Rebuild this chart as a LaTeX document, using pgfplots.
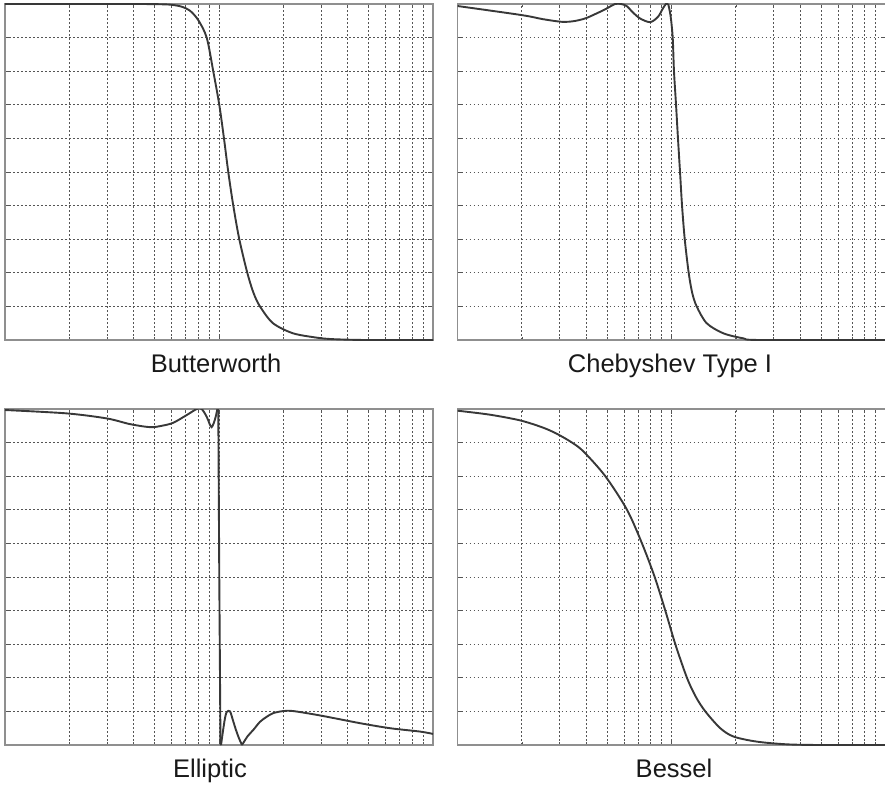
\documentclass[border=0pt]{standalone}
\usepackage{fontspec}
\setmainfont{Liberation Sans}
\usepackage{pgfplots}
\pgfplotsset{compat=1.18}

\definecolor{curvecol}{HTML}{383838}
\definecolor{gridcol}{HTML}{555555}
\definecolor{framecol}{HTML}{8F8F8F}

\begin{document}
\begin{tikzpicture}
\useasboundingbox (0pt,0pt) rectangle (885pt,-784pt);

% Butterworth
\begin{semilogxaxis}[at={(5pt,-4pt)}, anchor=north west,
    width=428pt, height=336pt, scale only axis,
    xmin=0.1, xmax=10, ymin=0, ymax=1,
    xtick={0.1,1,10}, ytick={0,0.1,0.2,0.3,0.4,0.5,0.6,0.7,0.8,0.9,1},
    xticklabels={}, yticklabels={}, grid=both,
    major grid style={color=gridcol, line width=1pt, dash pattern=on 1.6pt off 2.4pt},
    minor grid style={color=gridcol, line width=1pt, dash pattern=on 1.6pt off 2.4pt},
    axis line style={color=framecol, line width=1.4pt},
    tick style={color=gridcol, line width=0.8pt}, tick align=inside,
    major tick length=5pt, minor tick length=3pt]
\addplot[color=curvecol, line width=1.9pt, mark=none, smooth] coordinates {
(0.1,1) (0.4,1) (0.55,0.999) (0.611,0.997) (0.67,0.992) (0.732,0.980)
(0.80,0.952) (0.876,0.90) (0.94,0.80) (1.003,0.70) (1.055,0.60)
(1.105,0.50) (1.166,0.40) (1.244,0.30) (1.356,0.20) (1.45,0.14)
(1.554,0.10) (1.788,0.05) (2.217,0.02) (2.861,0.007) (3.30,0.003)
(4,0.001) (5,0) (10,0)
};
\end{semilogxaxis}
\node[anchor=base, font=\fontsize{25.5}{30}\selectfont, text=black!90] at (216pt,-372pt) {Butterworth};

% Chebyshev Type I
\begin{semilogxaxis}[at={(457.5pt,-4pt)}, anchor=north west,
    width=428pt, height=336pt, scale only axis,
    xmin=0.1, xmax=10, ymin=0, ymax=1,
    xtick={0.1,1,10}, ytick={0,0.1,0.2,0.3,0.4,0.5,0.6,0.7,0.8,0.9,1},
    xticklabels={}, yticklabels={}, grid=both,
    major grid style={color=gridcol, line width=1pt, dash pattern=on 1.6pt off 2.4pt},
    minor grid style={color=gridcol, line width=1pt, dash pattern=on 1.6pt off 2.4pt},
    axis line style={color=framecol, line width=1.4pt},
    tick style={color=gridcol, line width=0.8pt}, tick align=inside,
    major tick length=5pt, minor tick length=3pt]
% passband ripple
\addplot[color=curvecol, line width=1.9pt, mark=none, smooth] coordinates {
(0.1,0.994) (0.1995,0.967) (0.25,0.955) (0.307,0.947) (0.35,0.949)
(0.395,0.957) (0.44,0.970) (0.489,0.984) (0.545,1.0) (0.581,1.0)
(0.617,0.994) (0.66,0.975) (0.713,0.957) (0.795,0.946) (0.865,0.962)
(0.912,0.987) (0.942,1.0) (0.965,1.0)
};
% transition and stopband
\addplot[color=curvecol, line width=1.9pt, mark=none, smooth] coordinates {
(0.965,1.0) (0.99,0.965) (1.013,0.90)
(1.027,0.80) (1.050,0.70) (1.072,0.60) (1.096,0.50) (1.120,0.40)
(1.153,0.30) (1.203,0.20) (1.25,0.14) (1.311,0.10) (1.460,0.05)
(1.746,0.02) (2.165,0.005) (2.592,0.0) (10,0)
};
\end{semilogxaxis}
\node[anchor=base, font=\fontsize{25.5}{30}\selectfont, text=black!90] at (670pt,-372pt) {Chebyshev Type I};

% Elliptic
\begin{semilogxaxis}[at={(5pt,-409pt)}, anchor=north west,
    width=428pt, height=336pt, scale only axis,
    xmin=0.1, xmax=10, ymin=0, ymax=1,
    xtick={0.1,1,10}, ytick={0,0.1,0.2,0.3,0.4,0.5,0.6,0.7,0.8,0.9,1},
    xticklabels={}, yticklabels={}, grid=both,
    major grid style={color=gridcol, line width=1pt, dash pattern=on 1.6pt off 2.4pt},
    minor grid style={color=gridcol, line width=1pt, dash pattern=on 1.6pt off 2.4pt},
    axis line style={color=framecol, line width=1.4pt},
    tick style={color=gridcol, line width=0.8pt}, tick align=inside,
    major tick length=5pt, minor tick length=3pt]
% passband ripple
\addplot[color=curvecol, line width=1.9pt, mark=none, smooth] coordinates {
(0.1,0.997) (0.194,0.987) (0.2987,0.972) (0.384,0.955) (0.476,0.946)
(0.54,0.950) (0.611,0.959) (0.7066,0.982) (0.787,1.0) (0.830,1.0)
(0.876,0.977) (0.905,0.955) (0.924,0.946) (0.945,0.958) (0.968,0.980) (0.982,1.0)
};
% steep transition
\addplot[color=curvecol, line width=1.9pt, mark=none] coordinates {
(0.982,1.0) (0.9924,1.0) (1.003,0.5) (1.016,0.003) (1.022,0.0)
};
% first stopband lobe
\addplot[color=curvecol, line width=1.9pt, mark=none, smooth] coordinates {
(1.022,0.0) (1.06,0.07) (1.086,0.098) (1.126,0.10) (1.16,0.075)
(1.2,0.045) (1.24,0.02) (1.281,0.0)
};
% second stopband lobe and tail
\addplot[color=curvecol, line width=1.9pt, mark=none, smooth] coordinates {
(1.281,0.0) (1.36,0.026) (1.447,0.045) (1.554,0.069) (1.671,0.084)
(1.794,0.095) (1.998,0.101) (2.224,0.101) (2.965,0.088) (4.558,0.065)
(6.3,0.050) (8.697,0.040) (10,0.033)
};
\end{semilogxaxis}
\node[anchor=base, font=\fontsize{25.5}{30}\selectfont, text=black!90] at (210pt,-777pt) {Elliptic};

% Bessel
\begin{semilogxaxis}[at={(457.5pt,-409pt)}, anchor=north west,
    width=428pt, height=336pt, scale only axis,
    xmin=0.1, xmax=10, ymin=0, ymax=1,
    xtick={0.1,1,10}, ytick={0,0.1,0.2,0.3,0.4,0.5,0.6,0.7,0.8,0.9,1},
    xticklabels={}, yticklabels={}, grid=both,
    major grid style={color=gridcol, line width=1pt, dash pattern=on 1.6pt off 2.4pt},
    minor grid style={color=gridcol, line width=1pt, dash pattern=on 1.6pt off 2.4pt},
    axis line style={color=framecol, line width=1.4pt},
    tick style={color=gridcol, line width=0.8pt}, tick align=inside,
    major tick length=5pt, minor tick length=3pt]
\addplot[color=curvecol, line width=1.9pt, mark=none, smooth] coordinates {
(0.1,0.995) (0.142,0.983) (0.1965,0.966) (0.25,0.945) (0.2917,0.926)
(0.343,0.90) (0.3888,0.873) (0.4906,0.80) (0.6196,0.70) (0.728,0.60)
(0.8345,0.50) (0.9355,0.40) (1.042,0.30) (1.181,0.20) (1.30,0.143)
(1.439,0.10) (1.690,0.05) (1.953,0.025) (2.509,0.01) (3.465,0.002)
(5,0) (10,0)
};
\end{semilogxaxis}
\node[anchor=base, font=\fontsize{25.5}{30}\selectfont, text=black!90] at (674pt,-777pt) {Bessel};
\end{tikzpicture}
\end{document}
